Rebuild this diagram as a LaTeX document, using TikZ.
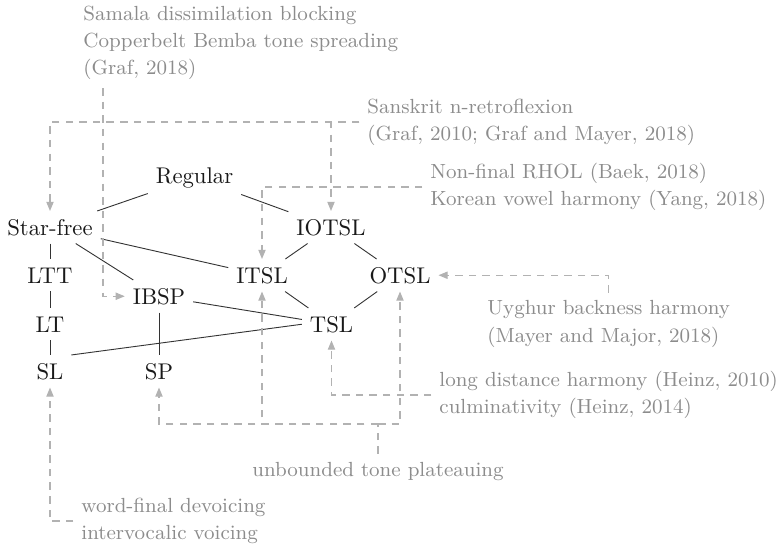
\documentclass[tikz,border=0pt]{standalone}
\usetikzlibrary{arrows.meta,calc}
\begin{document}
\begin{tikzpicture}[x=0.44pt,y=-0.44pt,
  cls/.style={font=\normalsize, text=black!90},
  ann/.style={font={\fontsize{9}{12}\selectfont}, text=black!45, align=left},
  dep/.style={draw=black!30, line width=0.45pt, dash pattern=on 3.3pt off 2.7pt, -{Triangle[length=4pt,width=3.2pt]}},
  dline/.style={draw=black!30, line width=0.45pt, dash pattern=on 3.3pt off 2.7pt},
  sol/.style={draw=black!80, line width=0.4pt}]
\useasboundingbox (0,0) rectangle (781,544);
% classes
\node[cls,anchor=base] (reg) at (194.5,183) {Regular};
\node[cls,anchor=base] (sf) at (50,235) {Star-free};
\node[cls,anchor=base] (iotsl) at (331,235) {IOTSL};
\node[cls,anchor=base] (ltt) at (50,283) {LTT};
\node[cls,anchor=base] (itsl) at (262,283) {ITSL};
\node[cls,anchor=base] (otsl) at (400,283) {OTSL};
\node[cls,anchor=base] (ibsp) at (159,304) {IBSP};
\node[cls,anchor=base] (lt) at (50,332) {LT};
\node[cls,anchor=base] (tsl) at (331.5,332) {TSL};
\node[cls,anchor=base] (sl) at (50,379) {SL};
\node[cls,anchor=base] (sp) at (159,379) {SP};
% annotations
\node[ann,anchor=west] (samala) at (75.4,43) {Samala dissimilation blocking\\Copperbelt Bemba tone spreading\\(Graf, 2018)};
\node[ann,anchor=west] (sanskrit) at (359.4,122) {Sanskrit n-retroflexion\\(Graf, 2010; Graf and Mayer, 2018)};
\node[ann,anchor=west] (korean) at (422.4,187) {Non-final RHOL (Baek, 2018)\\Korean vowel harmony (Yang, 2018)};
\node[ann,anchor=west] (uyghur) at (479.4,324) {Uyghur backness harmony\\(Mayer and Major, 2018)};
\node[ann,anchor=west] (longdist) at (431.4,395) {long distance harmony (Heinz, 2010)\\culminativity (Heinz, 2014)};
\node[ann,anchor=base] (utp) at (378,476) {unbounded tone plateauing};
\node[ann,anchor=west] (wordfinal) at (73.4,521) {word-final devoicing\\intervocalic voicing};
% solid inclusions
\draw[sol] (reg) -- (sf);
\draw[sol] (reg) -- (iotsl);
\draw[sol] (sf) -- (ltt);
\draw[sol] (ltt) -- (lt);
\draw[sol] (lt) -- (sl);
\draw[sol] (sf) -- (ibsp);
\draw[sol] (sf) -- (itsl);
\draw[sol] (iotsl) -- (itsl);
\draw[sol] (iotsl) -- (otsl);
\draw[sol] (itsl) -- (tsl);
\draw[sol] (otsl) -- (tsl);
\draw[sol] (ibsp) -- (tsl);
\draw[sol] (ibsp) -- (sp);
\draw[sol] (sl.north east) -- (tsl.west);
% dashed pointers
\coordinate (samx) at (103,0);
\draw[dep] (samala.south -| samx) |- (ibsp.west);
\draw[dep] (sanskrit.west) -| (sf.north);
\draw[dep] (sanskrit.west) -| (iotsl.north);
\draw[dep] (korean.west) -| (itsl.north);
\draw[dep] (uyghur.north) |- (otsl.east);
\draw[dep] (longdist.west) -| (tsl.south);
\coordinate (ubary) at (0,424);
\coordinate (ubar) at (utp.north |- ubary);
\draw[dline] (utp.north) -- (ubar);
\draw[dep] (ubar) -| (sp.south);
\draw[dep] (ubar) -| (itsl.south);
\draw[dep] (ubar) -| (otsl.south);
\draw[dep] (wordfinal.west) -| (sl.south);
\end{tikzpicture}
\end{document}
